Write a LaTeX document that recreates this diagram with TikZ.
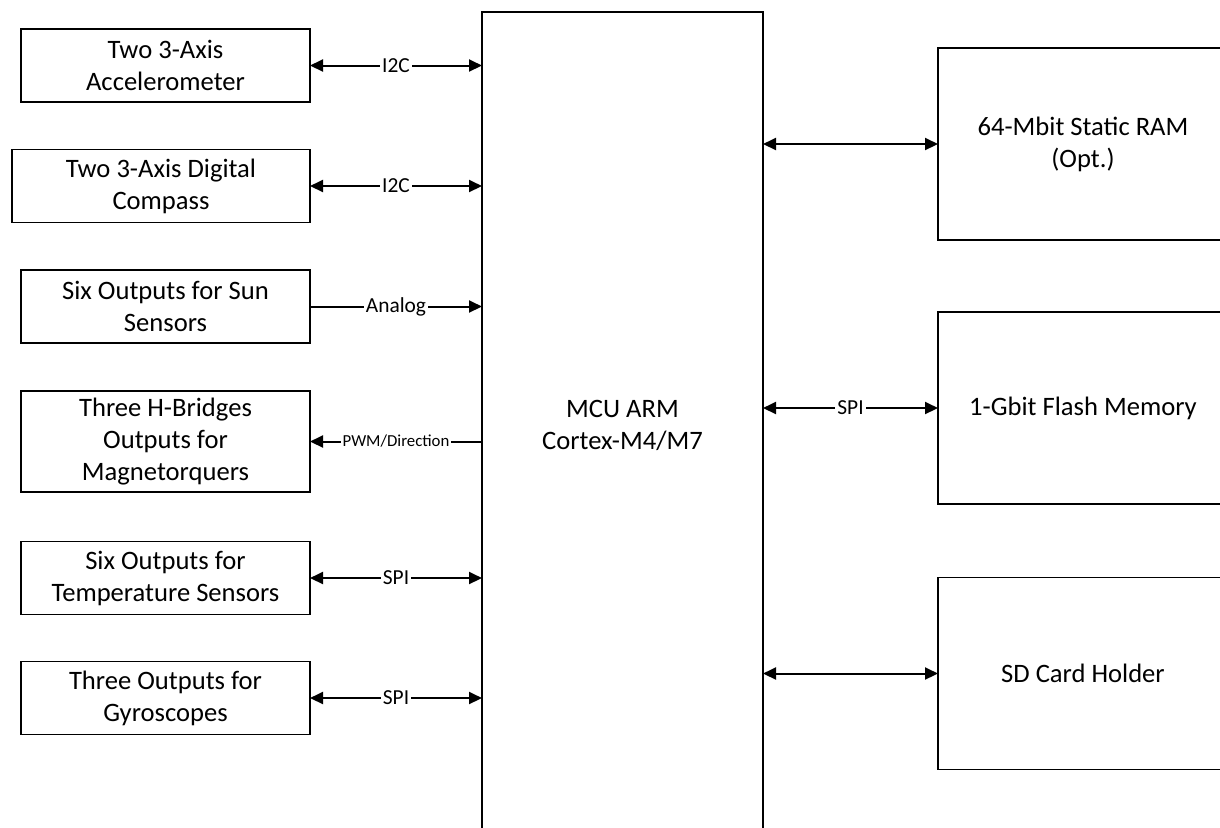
\documentclass[tikz,border=0pt]{standalone}
\usepackage{fontspec}
\setmainfont{Carlito}
\usetikzlibrary{arrows.meta}
\tikzset{
  blk/.style   ={draw, line width=0.9pt, align=center, font=\fontsize{13.3}{16}\selectfont, inner sep=2pt, outer sep=0pt},
  sensor/.style={blk, minimum width=144.5pt, minimum height=36.5pt},
  mem/.style   ={blk, minimum width=145pt, minimum height=96pt},
  mcublk/.style={blk, line width=1.2pt, minimum width=140.5pt, minimum height=413pt},
  flow/.style  ={>={Triangle[length=6.5pt,width=6pt]}, line width=1pt},
  lbl/.style   ={font=\fontsize{10.7}{12}\selectfont, fill=white, inner sep=1pt}
}

\begin{document}
\begin{tikzpicture}[x=0.5pt, y=-0.5pt]
  \useasboundingbox (0,0) rectangle (1220,827);
  \clip (0,0) rectangle (1220,827);
  % controller
  \node[mcublk] (mcu) at (622.5,425) {MCU ARM\\Cortex-M4/M7};
  % sensors and drivers
  \node[sensor] (acc)  at (165.5,65.5)  {Two 3-Axis\\Accelerometer};
  \node[sensor, minimum width=149pt] (comp) at (161,186) {Two 3-Axis Digital\\Compass};
  \node[sensor] (sun)  at (165.5,306.5) {Six Outputs for Sun\\Sensors};
  \node[sensor, minimum height=50.5pt] (hbr) at (165.5,441.5) {Three H-Bridges\\Outputs for\\Magnetorquers};
  \node[sensor] (temp) at (165.5,578)   {Six Outputs for\\Temperature Sensors};
  \node[sensor, line width=0.6pt] (gyro) at (165.5,698) {Three Outputs for\\Gyroscopes};
  % memories
  \node[mem] (ram)   at (1083,144)   {64-Mbit Static RAM\\(Opt.)};
  \node[mem] (flash) at (1083,408)   {1-Gbit Flash Memory};
  \node[mem] (sd)    at (1083,673.5) {SD Card Holder};
  % links
  \draw[flow, <->] (acc.east)  -- node[lbl]{I2C} (acc.east -| mcu.west);
  \draw[flow, <->] (comp.east) -- node[lbl]{I2C} (comp.east -| mcu.west);
  \draw[flow, ->]  (sun.east)  -- node[lbl]{Analog} (sun.east -| mcu.west);
  \draw[flow, <-]  (hbr.east)  -- node[lbl, font=\fontsize{8.4}{10}\selectfont]{PWM/Direction} (hbr.east -| mcu.west);
  \draw[flow, <->] (temp.east) -- node[lbl]{SPI} (temp.east -| mcu.west);
  \draw[flow, <->] (gyro.east) -- node[lbl]{SPI} (gyro.east -| mcu.west);
  \draw[flow, <->] (ram.west -| mcu.east)   -- (ram.west);
  \draw[flow, <->] (flash.west -| mcu.east) -- node[lbl]{SPI} (flash.west);
  \draw[flow, <->] (sd.west -| mcu.east)    -- (sd.west);
\end{tikzpicture}
\end{document}
